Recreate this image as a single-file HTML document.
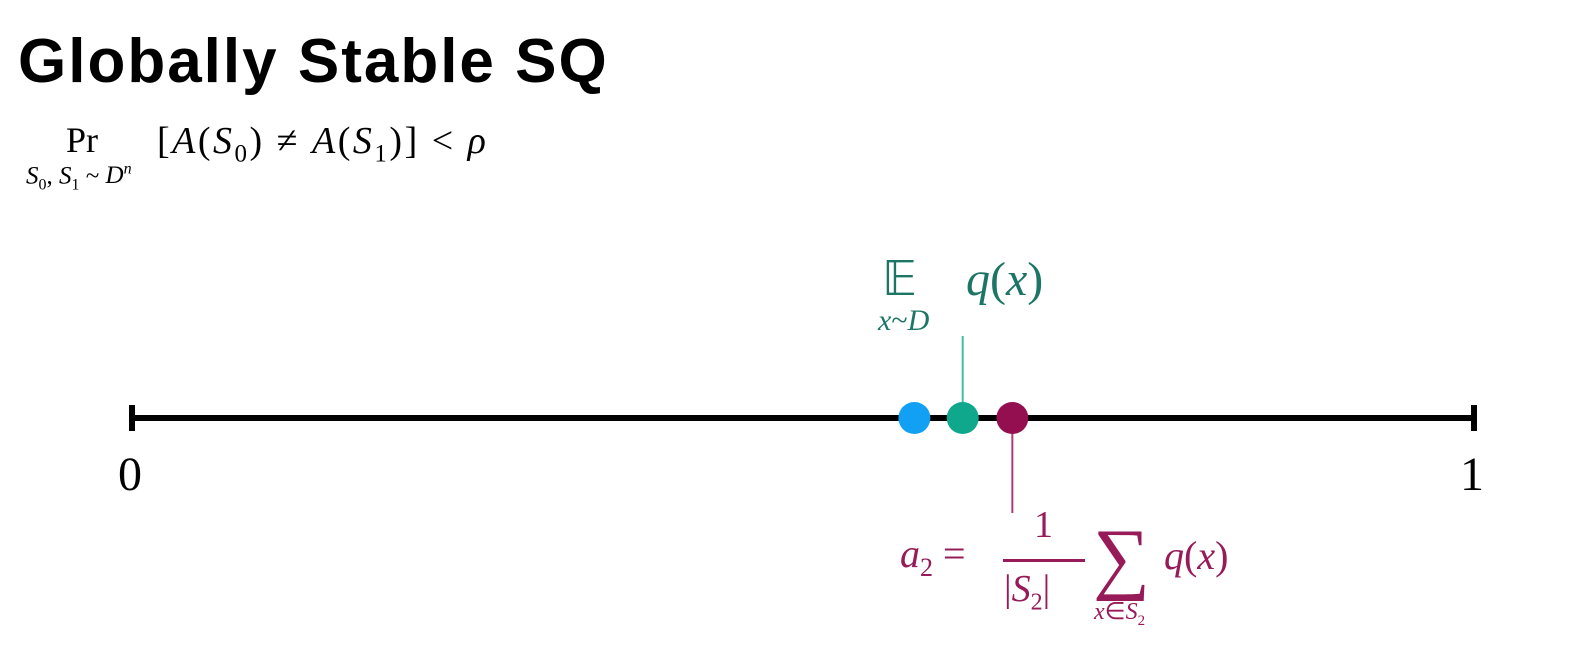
<!DOCTYPE html>
<html><head><meta charset="utf-8"><style>
body{margin:0;background:#fff;width:1582px;height:670px;overflow:hidden;position:relative;font-family:"Liberation Serif",serif}
.a{position:absolute;white-space:nowrap;line-height:1}
i{font-style:italic}
</style></head><body>
<div class="a" style="left:18px;top:26px;font:bold 62px 'Liberation Sans',sans-serif;letter-spacing:2px;color:#000">Globally Stable SQ</div>
<div class="a" style="left:66px;top:122px;font-size:36px">Pr</div>
<div class="a" style="left:26px;top:162px;font-size:25px"><i>S</i><sub style="font-size:16px">0</sub>, <i>S</i><sub style="font-size:16px">1</sub> ~ <i>D<sup style="font-size:16px">n</sup></i></div>
<div class="a" style="left:157px;top:122px;font-size:38px;letter-spacing:2.5px">[<i>A</i>(<i>S</i><sub style="font-size:25px">0</sub>) ≠ <i>A</i>(<i>S</i><sub style="font-size:25px">1</sub>)] &lt; <i>ρ</i></div>
<svg id="chart" width="1582" height="670" style="position:absolute;left:0;top:0"></svg>
<div class="a" style="left:882px;top:256px;font-size:48px;color:#1d7565">𝔼</div>
<div class="a" style="left:878px;top:306px;font-size:30px;color:#1d7565"><i>x</i>~<i>D</i></div>
<div class="a" style="left:966px;top:256px;font-size:48px;color:#1d7565"><i>q</i>(<i>x</i>)</div>
<div class="a" style="left:900px;top:534px;font-size:40px;color:#971b58"><i>a</i><sub style="font-size:26px">2</sub> =</div>
<div class="a" style="left:1034px;top:506px;font-size:38px;color:#971b58">1</div>
<div class="a" style="left:1003px;top:559px;width:82px;height:3px;background:#971b58"></div>
<div class="a" style="left:1004px;top:570px;font-size:38px;color:#971b58">|<i>S</i><sub style="font-size:24px">2</sub>|</div>
<div class="a" style="left:1093px;top:518px;font-size:80px;color:#971b58">∑</div>
<div class="a" style="left:1094px;top:600px;font-size:24px;color:#971b58"><i>x</i>∈<i>S</i><sub style="font-size:15px">2</sub></div>
<div class="a" style="left:1164px;top:536px;font-size:40px;color:#971b58"><i>q</i>(<i>x</i>)</div>
<script>
const tickLabels=["0","1"];
const pointNames=["blue-point","expectation-point","sample-mean-point"];
const pointValues=[0.583,0.619,0.656];
const pointColors=["#11a0f4","#0fa88c","#930f50"];
const svg=document.getElementById('chart');
const NS="http://www.w3.org/2000/svg";
const x0=132,x1=1474,y=418;
const X=v=>x0+(x1-x0)*v;
function mk(t,a){const e=document.createElementNS(NS,t);for(const k in a)e.setAttribute(k,a[k]);svg.appendChild(e);return e;}
let l=mk('line',{x1:X(0),x2:X(1),y1:y,y2:y,stroke:'#000','stroke-width':6});


tickLabels.forEach((t,i)=>{const v=i/(tickLabels.length-1);
 const tk=mk('line',{x1:X(v),x2:X(v),y1:y-13,y2:y+13,stroke:'#000','stroke-width':6});
 
 
 const tx=mk('text',{x:X(v)-2,y:y+72,'text-anchor':'middle','font-size':48,'font-family':'Liberation Serif, serif'});
 tx.textContent=t;
 
 
});
const c1=mk('line',{x1:X(pointValues[1]),x2:X(pointValues[1]),y1:336,y2:y,stroke:'#3fbfa8','stroke-width':2});


const c2=mk('line',{x1:X(pointValues[2]),x2:X(pointValues[2]),y1:y,y2:513,stroke:'#b23a72','stroke-width':2});


pointValues.forEach((v,i)=>{const c=mk('circle',{cx:X(v),cy:y,r:16,fill:pointColors[i]});
 
 
});
</script>
</body></html>
